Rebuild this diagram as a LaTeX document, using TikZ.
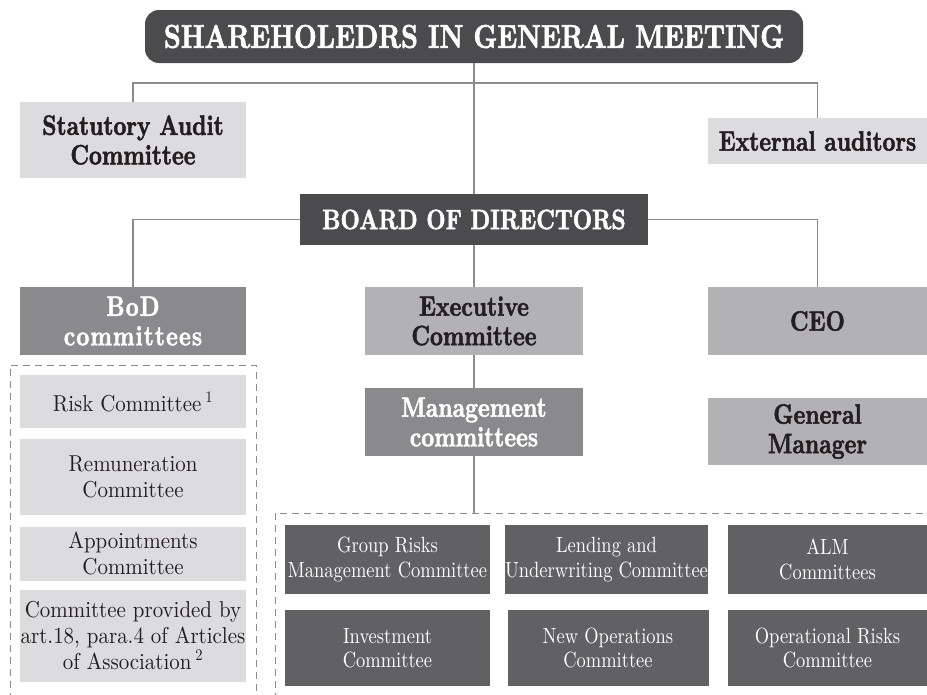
\documentclass[tikz,border=0pt]{standalone}
\usepackage{fontspec}
\setmainfont{lmroman10-regular.otf}[BoldFont=lmroman10-bold.otf]
\newfontfamily\headf{lmroman10-bold.otf}[FakeStretch=0.8, FakeBold=1.8]
\newfontfamily\bodyf{lmroman10-regular.otf}[FakeStretch=0.91]
\newfontfamily\gridf{lmroman10-regular.otf}[FakeStretch=0.84]
\definecolor{cdark}{HTML}{4B4B4D}
\definecolor{cgrid}{HTML}{616163}
\definecolor{cmid}{HTML}{8A8A8C}
\definecolor{clm}{HTML}{B2B2B4}
\definecolor{clight}{HTML}{DCDCDE}
\definecolor{ctext}{HTML}{231F20}
\definecolor{cline}{HTML}{8C8C8C}
\tikzset{
  box/.style={inner sep=0pt, align=center, text=ctext},
  headfont/.style={font=\headf\fontsize{28}{29.5}\selectfont},
  bodyfont/.style={font=\bodyf\fontsize{23}{26}\selectfont},
  gridfont/.style={font=\gridf\fontsize{22}{24.5}\selectfont},
  darkbox/.style={box, fill=cdark, text=white, headfont},
  midbox/.style={box, fill=cmid, text=white, headfont},
  lmbox/.style={box, fill=clm, headfont},
  lightbox/.style={box, fill=clight, headfont},
  combox/.style={box, fill=clight, bodyfont},
  gridbox/.style={box, fill=cgrid, text=white, gridfont},
  conn/.style={draw=cline, line width=1.3pt},
  dashbox/.style={draw=cline, line width=0.9pt, dash pattern=on 7pt off 5pt},
}
\begin{document}
\begin{tikzpicture}[x=1pt, y=-1pt]
\useasboundingbox[fill=white] (0,0) rectangle (927,694);
% top
\node[darkbox, rounded corners=14pt, minimum width=658, minimum height=53,
  font=\headf\fontsize{33}{33}\selectfont] (top) at (474,36.5) {SHAREHOLEDRS IN GENERAL MEETING};
\node[lightbox, minimum width=226, minimum height=76] (sac) at (133,140) {Statutory Audit\\Committee};
\node[lightbox, minimum width=219, minimum height=46] (ext) at (817.5,141) {External auditors};
\node[darkbox, minimum width=348, minimum height=51] (bod) at (474,219.5) {BOARD OF DIRECTORS};
\node[midbox, minimum width=226, minimum height=68] (bodc) at (133,321) {\addfontfeatures{LetterSpace=4}BoD\\\addfontfeatures{LetterSpace=4}committees};
\node[lmbox, minimum width=218, minimum height=68] (exec) at (474,321) {Executive\\Committee};
\node[lmbox, minimum width=219, minimum height=68] (ceo) at (817.5,321) {CEO};
\node[midbox, minimum width=218, minimum height=68] (mgmt) at (474,422) {Management\\committees};
\node[lmbox, minimum width=219, minimum height=67] (gm) at (817.5,431.5) {General\\Manager};
% left committees
\node[combox, minimum width=226, minimum height=53] (risk) at (133,401.5) {Risk Committee\,\textsuperscript{1}};
\node[combox, minimum width=226, minimum height=76] (remu) at (133,477) {Remuneration\\Committee};
\node[combox, minimum width=226, minimum height=54] (appt) at (133,554) {Appointments\\Committee};
\node[combox, minimum width=226, minimum height=92] (art) at (133,636) {Committee provided by\\art.18, para.4 of Articles\\of Association\,\textsuperscript{2}};
% grid
\node[gridbox, minimum width=205, minimum height=69] (g1) at (387.5,559.5) {Group Risks\\Management Committee};
\node[gridbox, minimum width=203, minimum height=69] (g2) at (606.5,559.5) {Lending and\\Underwriting Committee};
\node[gridbox, minimum width=199, minimum height=69] (g3) at (827.5,559.5) {ALM\\Committees};
\node[gridbox, minimum width=205, minimum height=76] (g4) at (387.5,648) {Investment\\Committee};
\node[gridbox, minimum width=201, minimum height=76] (g5) at (608,648) {New Operations\\Committee};
\node[gridbox, minimum width=199, minimum height=76] (g6) at (827.5,648) {Operational Risks\\Committee};
% dashed boxes
\coordinate (lb1) at (10,700);
\coordinate (lb2) at (10,365);
\coordinate (lb3) at (256,365);
\coordinate (lb4) at (256,700);
\draw[dashbox] (lb1) -- (lb2) -- (lb3) -- (lb4);
\coordinate (rb1) at (275,700);
\coordinate (rb2) at (275,513);
\coordinate (rb3) at (935,513);
\draw[dashbox] (rb1) -- (rb2) -- (rb3);
% connectors
\coordinate (j1) at (474,83);
\draw[conn] (sac.north) |- (j1) -| (ext.north);
\draw[conn] (top.south) -- (bod.north);
\draw[conn] (bod.west) -| (bodc.north);
\draw[conn] (bod.east) -| (ceo.north);
\draw[conn] (bod.south) -- (exec.north);
\draw[conn] (exec.south) -- (mgmt.north);
\draw[conn] (mgmt.south) -- (mgmt.south |- rb2);
\end{tikzpicture}
\end{document}
